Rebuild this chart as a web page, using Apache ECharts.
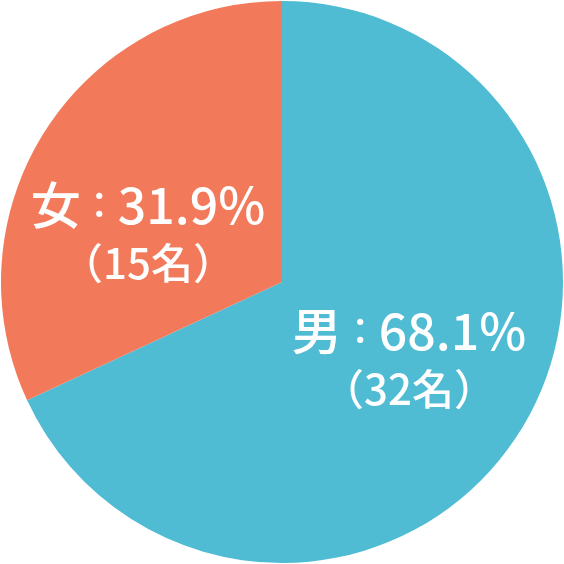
<!DOCTYPE html>
<html>
<head>
<meta charset="utf-8">
<script src="https://cdn.jsdelivr.net/npm/echarts@6/dist/echarts.min.js"></script>
<style>
html, body { margin: 0; padding: 0; background: #fff; }
#pie { width: 564px; height: 564px; }
</style>
</head>
<body>
<div id="pie"></div>
<script>
var names = ['男', '女'];
var counts = [32, 15];
var colors = ['#4fbcd3', '#f3795b'];
// label nudges from the default inside position
var labelShift = [[6, 0], [-13, 28]];

function getOption() {
	var data = [];
	for(var i = 0; i < names.length; i++) {
		data.push({
			name: names[i],
			value: counts[i],
			itemStyle: { color: colors[i] }
		});
	}
	var font = 'Noto Sans CJK JP';
	var option = {
		animation: false,
		series: [{
			type: 'pie',
			center: [282, 282],
			radius: [0, 281],
			startAngle: 90,
			percentPrecision: 1,
			silent: true,
			itemStyle: { borderWidth: 0 },
			label: {
				position: 'inside',
				color: '#fff',
				fontFamily: font,
				formatter: function(p) {
					return '{a|' + p.name + '}{c|：}{a|' + p.percent.toFixed(1) + '%}\n{b|（' + p.value + '名）}';
				},
				rich: {
					a: { fontSize: 50, lineHeight: 60, fontWeight: 500, color: '#fff', fontFamily: font },
					c: { fontSize: 37, lineHeight: 60, fontWeight: 500, color: '#fff', fontFamily: font },
					b: { fontSize: 42, lineHeight: 56, fontWeight: 500, color: '#fff', fontFamily: font }
				}
			},
			labelLayout: function(params) {
				var s = labelShift[params.dataIndex];
				return { dx: s[0], dy: s[1] };
			},
			labelLine: { show: false },
			data: data
		}]
	};
	return option;
}

echarts.init(document.getElementById('pie')).setOption(getOption());
</script>
</body>
</html>
